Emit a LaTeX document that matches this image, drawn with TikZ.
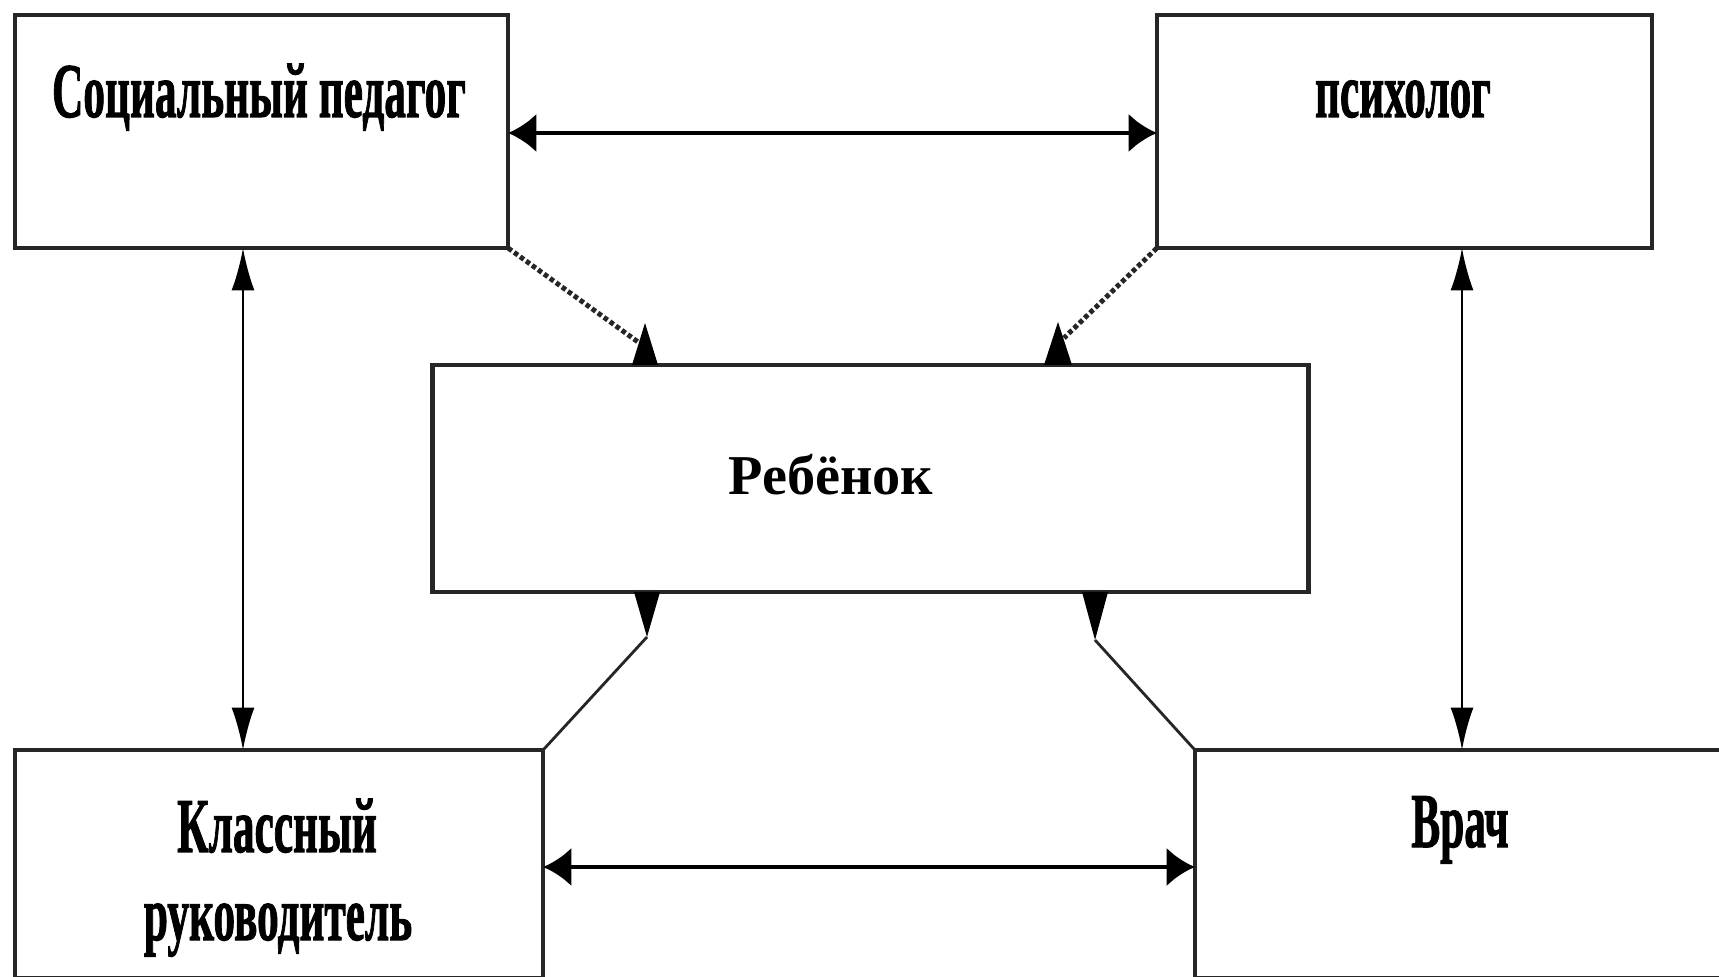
\documentclass[tikz,border=0pt]{standalone}
\usepackage{fontspec}
\setmainfont{Liberation Serif}
\newfontfamily\condfont[FakeBold=1.6]{Liberation Serif Bold}
\usepackage{graphicx}
\usetikzlibrary{arrows.meta,calc}
\newcommand{\condtxt}[1]{\scalebox{0.56}[1]{#1}}
\begin{document}
\begin{tikzpicture}[x=0.01cm,y=-0.01cm,
  box/.style={draw=black!85,line width=1.3pt,inner sep=0pt,outer sep=0pt,fill=white},
  lbl/.style={font=\fontsize{22}{26}\condfont,inner sep=0pt,anchor=base,text=black},
  chl/.style={font=\fontsize{16}{19}\selectfont\bfseries,inner sep=0pt,anchor=base},
  harrow/.style={line width=1.3pt,{Latex[length=8pt,width=11pt]}-{Latex[length=8pt,width=11pt]}},
  varrow/.style={line width=0.6pt,{Latex[length=12pt,width=6.5pt]}-{Latex[length=12pt,width=6.5pt]}},
  dotline/.style={line width=1.4pt,black!85,dash pattern=on 1.3pt off 0.8pt},
  solline/.style={line width=0.8pt,black!85},
  tip/.style={fill=black}]
\useasboundingbox (0,0) rectangle (1719,977);
\clip (0,0) rectangle (1719,977);
\fill[white] (0,0) rectangle (1719,977);
% boxes
\node[box,minimum width=4.93cm,minimum height=2.33cm] (sp) at (261.5,131.5) {};
\node[box,minimum width=4.95cm,minimum height=2.33cm] (ps) at (1404.5,131.5) {};
\node[box,minimum width=8.75cm,minimum height=2.27cm] (ch) at (870.5,478.5) {};
\node[box,minimum width=5.28cm,minimum height=2.28cm] (kr) at (279,864) {};
\node[box,minimum width=5.45cm,minimum height=2.28cm] (vr) at (1467.5,864) {};
% texts
\node[lbl] (tsp) at (259,117) {\condtxt{Социальный педагог}};
\node[lbl] (tps) at (1403,117) {\condtxt{психолог}};
\node[lbl] (tkr1) at (277,852) {\condtxt{Классный}};
\node[lbl] (tkr2) at (278,940) {\condtxt{руководитель}};
\node[lbl] (tvr) at (1460,847) {\condtxt{Врач}};
\node[chl] (tch) at (831,495) {Ребёнок};
% horizontal arrows
\draw[harrow] ([yshift=-0.015cm]sp.east) -- ([yshift=-0.015cm]ps.west);
\draw[harrow] ([yshift=-0.03cm]kr.east) -- ([yshift=-0.03cm]vr.west);
% vertical arrows
\coordinate (lx) at (243,0);
\coordinate (rx) at (1462,0);
\draw[varrow] (sp.south -| lx) -- (kr.north -| lx);
\draw[varrow] (ps.south -| rx) -- (vr.north -| rx);
% diagonal connectors to the child
\coordinate (a1) at (645,323);
\coordinate (a2) at (1058,322);
\coordinate (e1) at (638,342);
\coordinate (e2) at (1064,338);
\coordinate (a3) at (647,637);
\coordinate (a4) at (1095,640);
\draw[dotline] (sp.south east) -- (e1);
\draw[dotline] (ps.south west) -- (e2);
\draw[solline] (kr.north east) -- (a3);
\draw[solline] (vr.north west) -- (a4);
\fill[tip] (a1) -- ++(-13,42) -- ++(26,0) -- cycle;
\fill[tip] (a2) -- ++(-14,43) -- ++(28,0) -- cycle;
\fill[tip] (a3) -- ++(-13,-45) -- ++(26,0) -- cycle;
\fill[tip] (a4) -- ++(-13,-48) -- ++(26,0) -- cycle;
\end{tikzpicture}
\end{document}
